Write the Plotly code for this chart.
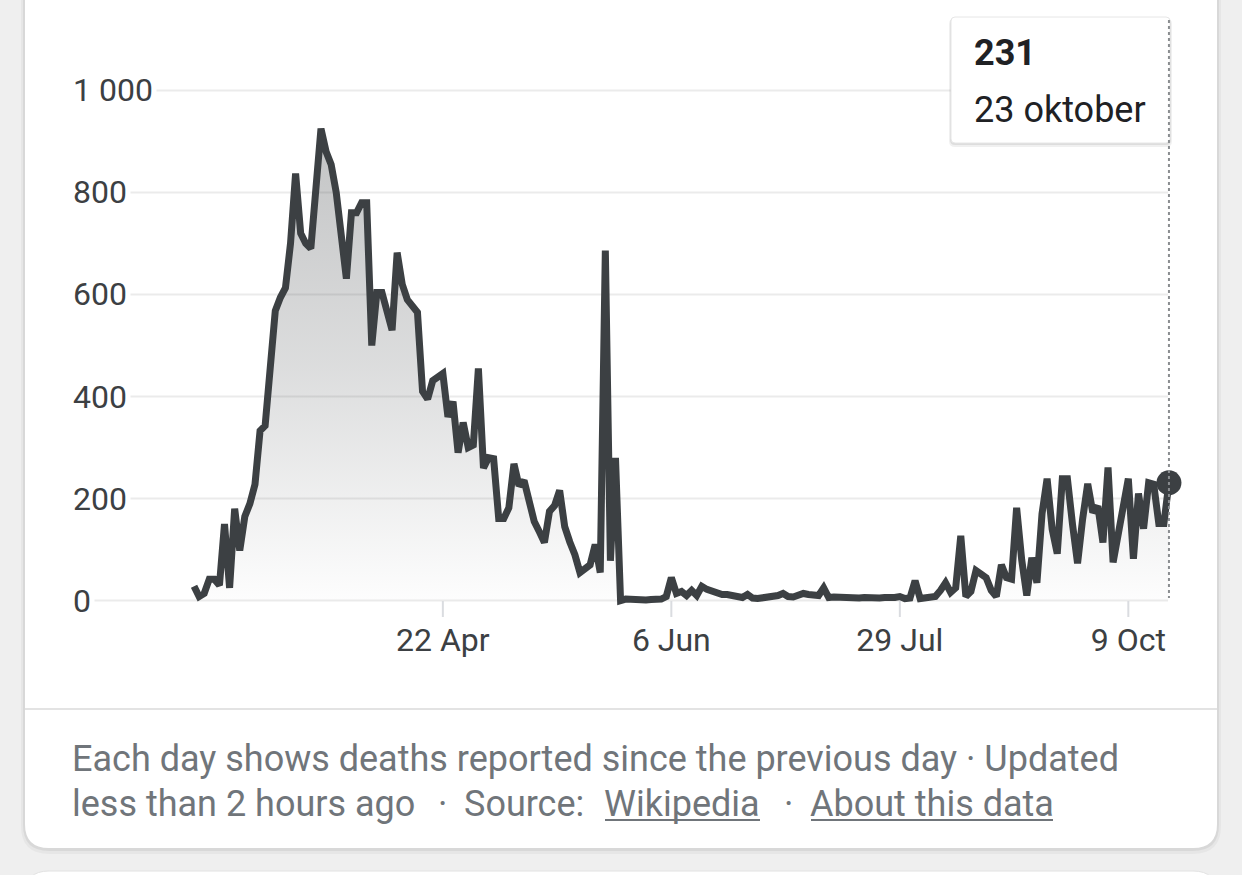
import plotly.graph_objects as go

# ---------------- data ----------------
deaths = [
    28, 8, 14, 42, 42, 30, 150, 25, 180, 98,
    165, 190, 228, 333, 343, 470, 568, 594, 613, 700,
    837, 720, 700, 690, 810, 925, 880, 855, 800, 700,
    631, 760, 760, 780, 780, 500, 604, 604, 560, 530,
    682, 620, 590, 575, 565, 410, 395, 431, 440, 445,
    360, 390, 290, 349, 300, 305, 455, 260, 280, 278,
    161, 161, 182, 268, 225, 235, 195, 155, 135, 114,
    175, 186, 216, 145, 115, 90, 55, 62, 70, 110,
    55, 686, 78, 280, 0, 3, 2, 4, 3, 1,
    2, 1, 3, 8, 45, 14, 18, 10, 20, 10,
    28, 22, 18, 14, 12, 12, 11, 10, 6, 12,
    5, 4, 5, 5, 6, 10, 14, 8, 7, 10,
    14, 12, 12, 10, 25, 6, 7, 6, 8, 5,
    6, 5, 6, 5, 6, 5, 6, 5, 6, 8,
    4, 5, 39, 4, 5, 6, 8, 20, 35, 16,
    25, 127, 8, 18, 59, 52, 45, 20, 8, 70,
    45, 42, 182, 80, 10, 84, 35, 170, 239, 140,
    92, 239, 239, 150, 73, 160, 229, 173, 185, 114,
    261, 75, 130, 185, 239, 82, 210, 141, 231, 228,
    151, 151, 231,
]
day_index = list(range(len(deaths)))

x_tick_index = [49, 94, 139, 184]
x_tick_text = ["22 Apr", "6 Jun", "29 Jul", "9 Oct"]
y_tick_values = [0, 200, 400, 600, 800, 1000]
y_tick_text = ["0", "200", "400", "600", "800", "1 000"]

tooltip_value = "231"
tooltip_date = "23 oktober"
footer_line1 = "Each day shows deaths reported since the previous day · Updated"
footer_line2_parts = ["less than 2 hours ago", "·", "Source:", "Wikipedia", "·", "About this data"]

# ---------------- layout geometry ----------------
W, H = 1242, 875
L, R, T, B = 191, 70, 70, 257
PW = W - L - R
PH = H - T - B
Y_RANGE = [-34.1, 1040]

def px(x):
    return (x - L) / PW

def py(y):
    return (H - B - y) / PH

def rrect(x0, y0, x1, y1, r):
    pts = [
        f"M{px(x0 + r)},{py(y0)}",
        f"L{px(x1 - r)},{py(y0)}",
        f"Q{px(x1)},{py(y0)} {px(x1)},{py(y0 + r)}",
        f"L{px(x1)},{py(y1 - r)}",
        f"Q{px(x1)},{py(y1)} {px(x1 - r)},{py(y1)}",
        f"L{px(x0 + r)},{py(y1)}",
        f"Q{px(x0)},{py(y1)} {px(x0)},{py(y1 - r)}",
        f"L{px(x0)},{py(y0 + r)}",
        f"Q{px(x0)},{py(y0)} {px(x0 + r)},{py(y0)}",
        "Z",
    ]
    return " ".join(pts)

LINE = "#3c4043"
GRID = "#ebebeb"
TEXT = "#3c4043"
MUTED = "#70757a"
FONT = "Roboto"

fig = go.Figure()

fig.add_trace(go.Scatter(
    x=day_index, y=deaths, mode="lines",
    line=dict(color=LINE, width=7, shape="linear"),
    fill="tozeroy",
    fillgradient=dict(
        type="vertical",
        start=0, stop=max(deaths),
        colorscale=[[0, "rgba(60,64,67,0.01)"], [0.5, "rgba(60,64,67,0.18)"], [1, "rgba(60,64,67,0.31)"]],
    ),
    hoverinfo="skip", showlegend=False,
))
fig.add_trace(go.Scatter(
    x=[day_index[-1]], y=[deaths[-1]], mode="markers",
    marker=dict(color=LINE, size=25),
    cliponaxis=False, hoverinfo="skip", showlegend=False,
))

shapes = []
# background card + shadow
shapes.append(dict(type="path", xref="paper", yref="paper", layer="below",
                   path=rrect(21, -40, 1221, 854, 28), fillcolor="rgba(0,0,0,0.035)", line=dict(width=0)))
shapes.append(dict(type="path", xref="paper", yref="paper", layer="below",
                   path=rrect(23, -40, 1219, 851, 26), fillcolor="rgba(0,0,0,0.06)", line=dict(width=0)))
shapes.append(dict(type="path", xref="paper", yref="paper", layer="below",
                   path=rrect(25, -40, 1217, 848, 24), fillcolor="white", line=dict(width=0)))
# next card peeking at the bottom
shapes.append(dict(type="path", xref="paper", yref="paper", layer="below",
                   path=rrect(25, 871, 1217, 920, 24), fillcolor="white",
                   line=dict(color="#e2e2e2", width=1)))
# divider
shapes.append(dict(type="line", xref="paper", yref="paper", layer="below",
                   x0=px(25), x1=px(1217), y0=py(709), y1=py(709),
                   line=dict(color="#e3e3e3", width=2)))
# gridlines
for v in y_tick_values:
    shapes.append(dict(type="line", xref="paper", yref="y", layer="below",
                       x0=px(73), x1=px(1168), y0=v, y1=v,
                       line=dict(color=GRID, width=2)))
# x tick marks
for t in x_tick_index:
    shapes.append(dict(type="line", xref="x", yref="paper", layer="below",
                       x0=t, x1=t, y0=py(601), y1=py(617),
                       line=dict(color="#dadce0", width=2)))
# tooltip box with shadow
shapes.append(dict(type="path", xref="paper", yref="paper", layer="above",
                   path=rrect(949, 18, 1172, 147, 6), fillcolor="rgba(0,0,0,0.06)", line=dict(width=0)))
shapes.append(dict(type="path", xref="paper", yref="paper", layer="above",
                   path=rrect(950, 18, 1171, 145, 5), fillcolor="rgba(0,0,0,0.08)", line=dict(width=0)))
shapes.append(dict(type="path", xref="paper", yref="paper", layer="above",
                   path=rrect(951, 17, 1170, 143, 4), fillcolor="white", line=dict(color="#e6e6e6", width=1)))
# dotted hover line
shapes.append(dict(type="line", xref="x", yref="paper", layer="above",
                   x0=day_index[-1], x1=day_index[-1], y0=py(20), y1=py(598),
                   line=dict(color="#8a8d90", width=2, dash="dot")))
# link underlines
shapes.append(dict(type="line", xref="paper", yref="paper", layer="above",
                   x0=px(605), x1=px(760), y0=py(820), y1=py(820), line=dict(color=MUTED, width=2)))
shapes.append(dict(type="line", xref="paper", yref="paper", layer="above",
                   x0=px(811), x1=px(1053), y0=py(820), y1=py(820), line=dict(color=MUTED, width=2)))

annotations = []
for v, txt in zip(y_tick_values, y_tick_text):
    annotations.append(dict(xref="paper", yref="y", x=px(69), y=v, text=txt,
                            xanchor="left", yanchor="middle", showarrow=False,
                            bgcolor="white", borderpad=3,
                            font=dict(family=FONT, size=32, color=TEXT)))
annotations.append(dict(xref="paper", yref="paper", x=px(972), y=py(53), text=f"<b>{tooltip_value}</b>",
                        xanchor="left", yanchor="middle", showarrow=False,
                        font=dict(family=FONT, size=36, color="#202124")))
annotations.append(dict(xref="paper", yref="paper", x=px(972), y=py(110), text=tooltip_date,
                        xanchor="left", yanchor="middle", showarrow=False,
                        font=dict(family=FONT, size=36, color="#202124")))
annotations.append(dict(xref="paper", yref="paper", x=px(70), y=py(759), text=footer_line1,
                        xanchor="left", yanchor="middle", showarrow=False,
                        font=dict(family=FONT, size=36, color=MUTED)))
part_x = [70, 436, 462, 602, 782, 808]
for xp, txt in zip(part_x, footer_line2_parts):
    annotations.append(dict(xref="paper", yref="paper", x=px(xp), y=py(804), text=txt,
                            xanchor="left", yanchor="middle", showarrow=False,
                            font=dict(family=FONT, size=36, color=MUTED)))

fig.update_layout(
    width=W, height=H,
    margin=dict(l=L, r=R, t=T, b=B),
    paper_bgcolor="#efefef",
    plot_bgcolor="rgba(0,0,0,0)",
    shapes=shapes,
    annotations=annotations,
    showlegend=False,
    xaxis=dict(range=[-0.6, 192.6], showgrid=False, zeroline=False, showline=False,
               tickmode="array", tickvals=x_tick_index, ticktext=x_tick_text,
               ticks="", tickfont=dict(family=FONT, size=32, color=TEXT),
               fixedrange=True),
    yaxis=dict(range=Y_RANGE, showgrid=False, zeroline=False, showline=False,
               showticklabels=False, fixedrange=True),
    font=dict(family=FONT),
)

fig.write_html("out.html", config={"displayModeBar": False})
